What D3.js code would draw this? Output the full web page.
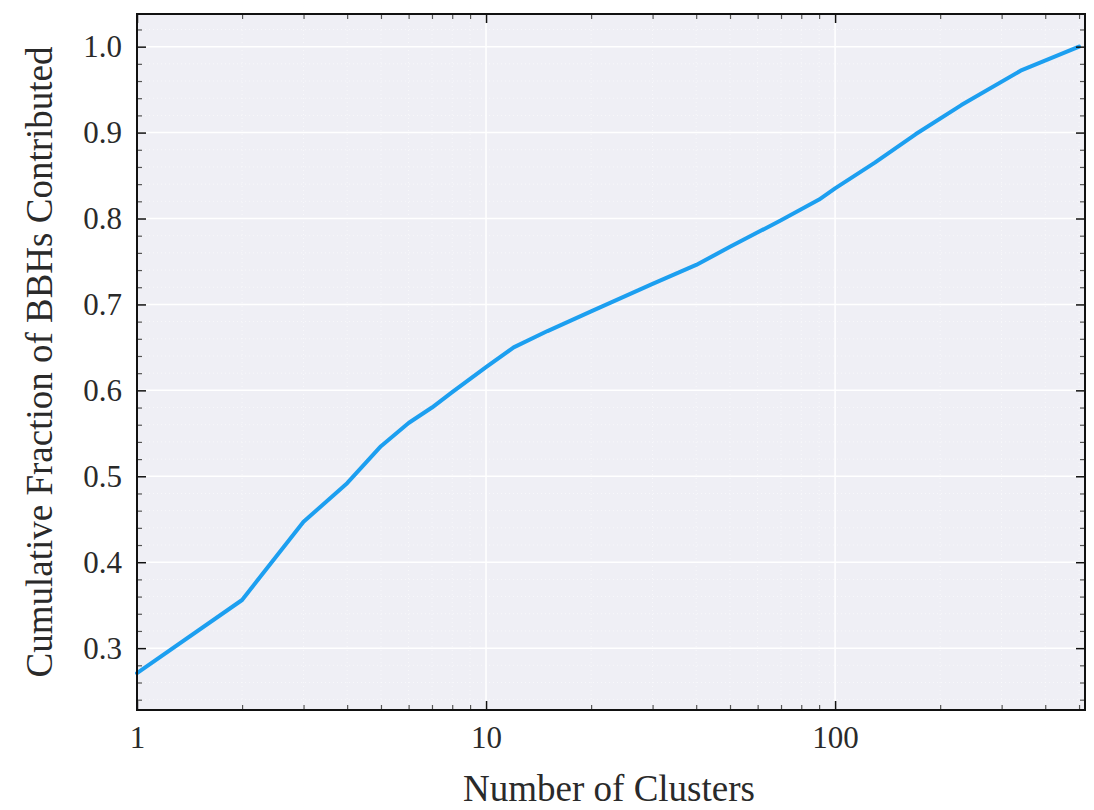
<html>
<head>
<script src="https://d3js.org/d3.v7.min.js"></script>
<style>
  body { margin: 0; background: #fff; }
  text { font-family: "Liberation Serif", "Times New Roman", serif; fill: #2a2a2a; }
</style>
</head>
<body>
<script>
// cumulative fraction vs. number of clusters
const clusters = [1, 2, 3, 4, 5, 6, 7, 8, 10, 12, 15, 20, 30, 40, 50, 70, 90, 100, 130, 170, 230, 340, 500];
const fraction = [0.271, 0.356, 0.447, 0.492, 0.535, 0.562, 0.580, 0.598, 0.627, 0.650, 0.669, 0.692,
                  0.724, 0.746, 0.767, 0.798, 0.822, 0.835, 0.865, 0.898, 0.932, 0.972, 1.0];
const xTicks = [1, 10, 100];
const yTicks = [0.3, 0.4, 0.5, 0.6, 0.7, 0.8, 0.9, 1.0];

const width = 1094, height = 810;
const margin = {top: 14, right: 9, bottom: 100, left: 137};

const svg = d3.select("body").append("svg")
    .attr("width", width).attr("height", height);

const x = d3.scaleLog()
    .domain([1, 520])
    .range([margin.left, width - margin.right]);

const y = d3.scaleLinear()
    .domain([0.228, 1.038])
    .range([height - margin.bottom, margin.top]);

const x0 = margin.left, x1 = width - margin.right;
const y0 = height - margin.bottom, y1 = margin.top;

svg.append("rect")
    .attr("x", x0).attr("y", y1)
    .attr("width", x1 - x0).attr("height", y0 - y1)
    .attr("fill", "#efeff5");

// minor tick values
const xMinor = [];
for (let d = 1; d <= 100; d *= 10)
  for (let k = 2; k <= 9; k++) if (d * k <= 520) xMinor.push(d * k);
const yMinor = d3.range(0.24, 1.038, 0.02).filter(v => Math.abs(Math.round(v * 10) - v * 10) > 0.01);

// minor grid (faint dotted)
const grid = svg.append("g");
grid.selectAll(".mgx").data(xMinor).join("line")
    .attr("x1", d => x(d)).attr("x2", d => x(d))
    .attr("y1", y1).attr("y2", y0)
    .attr("stroke", "#fff").attr("stroke-width", 1).attr("stroke-dasharray", "1,3").attr("opacity", 0.6);
grid.selectAll(".mgy").data(yMinor).join("line")
    .attr("x1", x0).attr("x2", x1)
    .attr("y1", d => y(d)).attr("y2", d => y(d))
    .attr("stroke", "#fff").attr("stroke-width", 1).attr("stroke-dasharray", "1,3").attr("opacity", 0.6);

// major grid
grid.selectAll(".gx").data(xTicks).join("line")
    .attr("x1", d => x(d)).attr("x2", d => x(d))
    .attr("y1", y1).attr("y2", y0)
    .attr("stroke", "#fff").attr("stroke-width", 1.5);
grid.selectAll(".gy").data(yTicks).join("line")
    .attr("x1", x0).attr("x2", x1)
    .attr("y1", d => y(d)).attr("y2", d => y(d))
    .attr("stroke", "#fff").attr("stroke-width", 1.5);

// the curve
const line = d3.line()
    .x((d, i) => x(clusters[i]))
    .y(d => y(d));

svg.append("path")
    .datum(fraction)
    .attr("fill", "none")
    .attr("stroke", "#1c9ff0")
    .attr("stroke-width", 4)
    .attr("stroke-linejoin", "round")
    .attr("stroke-linecap", "round")
    .attr("d", line);

// axes, ticks pointing inward on all sides
const fmtY = d3.format(".1f");

svg.append("g")
    .attr("transform", `translate(0,${y0})`)
    .call(d3.axisBottom(x).tickValues(xTicks).tickFormat(d3.format("d")).tickSize(-9).tickPadding(16))
    .call(g => g.select(".domain").remove())
    .call(g => g.selectAll(".tick line").attr("stroke", "#111").attr("stroke-width", 1.5))
    .call(g => g.selectAll("text").attr("font-size", 31).attr("font-family", "Liberation Serif").attr("fill", "#2a2a2a"));

svg.append("g")
    .attr("transform", `translate(0,${y0})`)
    .call(d3.axisBottom(x).tickValues(xMinor).tickFormat("").tickSize(-5))
    .call(g => g.select(".domain").remove())
    .call(g => g.selectAll(".tick line").attr("stroke", "#555").attr("stroke-width", 1.2));

svg.append("g")
    .attr("transform", `translate(0,${y1})`)
    .call(d3.axisTop(x).tickValues(xTicks).tickFormat("").tickSize(-9))
    .call(g => g.select(".domain").remove())
    .call(g => g.selectAll(".tick line").attr("stroke", "#111").attr("stroke-width", 1.5));

svg.append("g")
    .attr("transform", `translate(0,${y1})`)
    .call(d3.axisTop(x).tickValues(xMinor).tickFormat("").tickSize(-5))
    .call(g => g.select(".domain").remove())
    .call(g => g.selectAll(".tick line").attr("stroke", "#555").attr("stroke-width", 1.2));

svg.append("g")
    .attr("transform", `translate(${x0},0)`)
    .call(d3.axisLeft(y).tickValues(yTicks).tickFormat(fmtY).tickSize(-9).tickPadding(15))
    .call(g => g.select(".domain").remove())
    .call(g => g.selectAll(".tick line").attr("stroke", "#111").attr("stroke-width", 1.5))
    .call(g => g.selectAll("text").attr("font-size", 31).attr("font-family", "Liberation Serif").attr("fill", "#2a2a2a"));

svg.append("g")
    .attr("transform", `translate(${x0},0)`)
    .call(d3.axisLeft(y).tickValues(yMinor).tickFormat("").tickSize(-5))
    .call(g => g.select(".domain").remove())
    .call(g => g.selectAll(".tick line").attr("stroke", "#555").attr("stroke-width", 1.2));

svg.append("g")
    .attr("transform", `translate(${x1},0)`)
    .call(d3.axisRight(y).tickValues(yTicks).tickFormat("").tickSize(-9))
    .call(g => g.select(".domain").remove())
    .call(g => g.selectAll(".tick line").attr("stroke", "#111").attr("stroke-width", 1.5));

svg.append("g")
    .attr("transform", `translate(${x1},0)`)
    .call(d3.axisRight(y).tickValues(yMinor).tickFormat("").tickSize(-5))
    .call(g => g.select(".domain").remove())
    .call(g => g.selectAll(".tick line").attr("stroke", "#555").attr("stroke-width", 1.2));

// frame
svg.append("rect")
    .attr("x", x0).attr("y", y1)
    .attr("width", x1 - x0).attr("height", y0 - y1)
    .attr("fill", "none").attr("stroke", "#111").attr("stroke-width", 2);

// axis labels
svg.append("text")
    .attr("x", 609).attr("y", 801)
    .attr("text-anchor", "middle")
    .attr("font-size", 37)
    .text("Number of Clusters");

svg.append("text")
    .attr("transform", `translate(52,${(y0 + y1) / 2}) rotate(-90)`)
    .attr("text-anchor", "middle")
    .attr("font-size", 37)
    .text("Cumulative Fraction of BBHs Contributed");
</script>
</body>
</html>
